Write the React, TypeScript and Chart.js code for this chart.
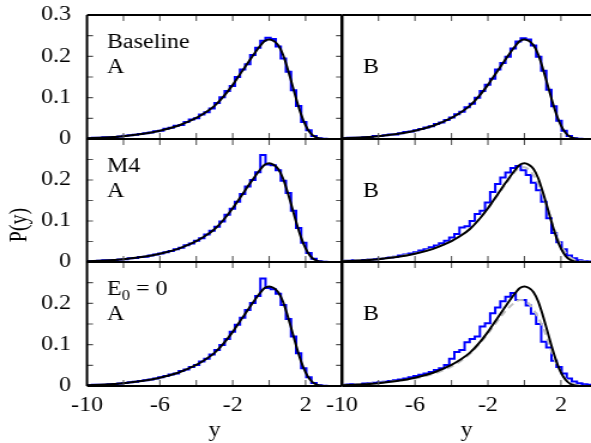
import React, { useEffect, useRef } from 'react';
import { Chart, registerables } from 'chart.js';

Chart.register(...registerables);

// page size and a horizontal stretch (the reference figure is wider than its font's natural proportions)
const W = 591;
const H = 443;
const CW = 493; // canvas drawing width, stretched by CSS to W
const SX = W / CW;
const FONT_FAMILY = "'Liberation Serif', 'Times New Roman', Times, serif";
const FONT_SIZE = 20;

// ---- axis ticks ----
const xTickLabels = [-10, -6, -2, 2];
const xMinorTicks = [-8, -6, -4, -2, 0, 2];
const yTickLabelsTop = [0, 0.1, 0.2, 0.3];
const yTickLabelsLower = [0, 0.1, 0.2];
const yMinorTicks = [0.05, 0.1, 0.15, 0.2, 0.25];

// ---- smooth curves (x positions and values) ----
const curveX = [-10, -9, -8, -7, -6, -5, -4.5, -4, -3.5, -3, -2.5, -2, -1.5, -1, -0.5, -0.25, 0, 0.25, 0.5, 0.75, 1, 1.25, 1.5, 1.75, 2, 2.25, 2.5, 2.75, 3, 3.5, 4];
const theoryCurve = [0.002, 0.0035, 0.0068, 0.012, 0.02, 0.032, 0.041, 0.051, 0.064, 0.08, 0.103, 0.131, 0.163, 0.195, 0.225, 0.237, 0.241, 0.237, 0.227, 0.205, 0.172, 0.134, 0.095, 0.06, 0.033, 0.015, 0.0055, 0.0015, 0.0003, 0, 0];
const grayM4B = [0.003, 0.005, 0.008, 0.013, 0.021, 0.033, 0.041, 0.051, 0.064, 0.081, 0.104, 0.131, 0.161, 0.192, 0.221, 0.23, 0.231, 0.225, 0.211, 0.191, 0.164, 0.132, 0.099, 0.067, 0.041, 0.023, 0.011, 0.005, 0.002, 0.0003, 0];
const grayE0B = [0.003, 0.005, 0.0075, 0.012, 0.018, 0.029, 0.037, 0.047, 0.06, 0.077, 0.1, 0.127, 0.156, 0.183, 0.203, 0.208, 0.207, 0.199, 0.185, 0.166, 0.143, 0.115, 0.082, 0.054, 0.033, 0.018, 0.009, 0.004, 0.0015, 0.0002, 0];

// ---- histograms: 50 bins of width 0.28 from -10 to 4 ----
const BIN_START = -10;
const BIN_WIDTH = 0.28;
const histBaselineA = [0.002, 0.003, 0.003, 0.004, 0.004, 0.005, 0.006, 0.008, 0.009, 0.010, 0.012, 0.014, 0.016, 0.019, 0.020, 0.025, 0.027, 0.032, 0.034, 0.041, 0.047, 0.050, 0.059, 0.065, 0.074, 0.087, 0.101, 0.116, 0.128, 0.150, 0.168, 0.181, 0.203, 0.221, 0.238, 0.245, 0.242, 0.224, 0.195, 0.163, 0.118, 0.080, 0.041, 0.021, 0.007, 0.002, 0.0004, 0, 0, 0];
const histBaselineB = [0.002, 0.003, 0.003, 0.003, 0.004, 0.005, 0.007, 0.007, 0.009, 0.011, 0.011, 0.014, 0.017, 0.018, 0.021, 0.024, 0.028, 0.031, 0.036, 0.040, 0.046, 0.052, 0.060, 0.066, 0.077, 0.085, 0.100, 0.116, 0.131, 0.146, 0.168, 0.184, 0.199, 0.219, 0.236, 0.244, 0.241, 0.226, 0.199, 0.165, 0.119, 0.079, 0.044, 0.020, 0.007, 0.002, 0.0004, 0, 0, 0];
const histM4A = [0.002, 0.002, 0.003, 0.004, 0.004, 0.005, 0.006, 0.007, 0.009, 0.010, 0.012, 0.013, 0.016, 0.018, 0.021, 0.024, 0.027, 0.031, 0.035, 0.041, 0.045, 0.052, 0.058, 0.067, 0.076, 0.086, 0.099, 0.115, 0.130, 0.147, 0.166, 0.184, 0.200, 0.219, 0.261, 0.238, 0.236, 0.224, 0.198, 0.168, 0.125, 0.083, 0.047, 0.022, 0.008, 0.002, 0.0004, 0, 0, 0];
const histM4B = [0.003, 0.003, 0.004, 0.004, 0.005, 0.006, 0.007, 0.008, 0.010, 0.011, 0.013, 0.016, 0.018, 0.021, 0.024, 0.028, 0.031, 0.036, 0.040, 0.046, 0.052, 0.060, 0.068, 0.084, 0.087, 0.100, 0.117, 0.125, 0.145, 0.171, 0.190, 0.206, 0.218, 0.229, 0.234, 0.224, 0.212, 0.193, 0.175, 0.147, 0.107, 0.071, 0.048, 0.031, 0.016, 0.009, 0.004, 0.002, 0.001, 0.0005];
const histE0A = [0.002, 0.003, 0.003, 0.003, 0.004, 0.005, 0.006, 0.007, 0.009, 0.010, 0.012, 0.014, 0.016, 0.018, 0.021, 0.024, 0.028, 0.030, 0.036, 0.040, 0.046, 0.051, 0.059, 0.066, 0.076, 0.087, 0.099, 0.114, 0.131, 0.148, 0.165, 0.184, 0.201, 0.218, 0.260, 0.237, 0.234, 0.223, 0.196, 0.162, 0.120, 0.079, 0.043, 0.021, 0.007, 0.002, 0.0004, 0, 0, 0];
const histE0B = [0.003, 0.004, 0.004, 0.005, 0.006, 0.007, 0.008, 0.009, 0.010, 0.012, 0.014, 0.016, 0.018, 0.021, 0.024, 0.027, 0.030, 0.034, 0.039, 0.043, 0.051, 0.066, 0.082, 0.087, 0.106, 0.114, 0.120, 0.144, 0.152, 0.176, 0.190, 0.205, 0.216, 0.225, 0.208, 0.208, 0.195, 0.175, 0.150, 0.107, 0.093, 0.061, 0.046, 0.030, 0.018, 0.011, 0.0065, 0.004, 0.003, 0.002];

// ---- panel texts ----
const rowTitles = ['Baseline', 'M4', 'E_0 = 0'];
const colTitles = ['A', 'B'];
const yAxisTitle = 'P(y)';
const xAxisTitle = 'y';

// ---- layout (page-pixel frame of each panel) ----
const COLS = [
  { left: 87, right: 342, xMax: 4 },
  { left: 342, right: W, xMax: 3.65 },
];
const ROWS = [
  { top: 15, bottom: 139 },
  { top: 139, bottom: 262 },
  { top: 262, bottom: 386 },
];
const px = (v: number) => v / SX; // page x -> canvas x

type Panel = { row: number; col: number; hist: number[]; gray?: number[] };
const PANELS: Panel[] = [
  { row: 0, col: 0, hist: histBaselineA },
  { row: 0, col: 1, hist: histBaselineB },
  { row: 1, col: 0, hist: histM4A },
  { row: 1, col: 1, hist: histM4B, gray: grayM4B },
  { row: 2, col: 0, hist: histE0A },
  { row: 2, col: 1, hist: histE0B, gray: grayE0B },
];

function font(size = FONT_SIZE) {
  return `${size}px ${FONT_FAMILY}`;
}

function drawLabel(ctx: CanvasRenderingContext2D, text: string, x: number, y: number) {
  // supports one subscript written as "_c"
  const idx = text.indexOf('_');
  ctx.font = font();
  if (idx < 0) {
    ctx.fillText(text, x, y);
    return;
  }
  const pre = text.slice(0, idx);
  const sub = text.slice(idx + 1, idx + 2);
  const post = text.slice(idx + 2);
  ctx.fillText(pre, x, y);
  let cx = x + ctx.measureText(pre).width;
  ctx.font = font(14);
  ctx.fillText(sub, cx, y + 5);
  cx += ctx.measureText(sub).width;
  ctx.font = font();
  ctx.fillText(post, cx, y);
}

const decoPlugin = {
  id: 'panelDeco',
  afterDatasetsDraw(chart: any, _args: any, opts: any) {
    const { ctx, chartArea: a, scales } = chart;
    ctx.save();
    const LX = 6;
    const LY = px(6);
    ctx.strokeStyle = '#555';
    ctx.lineWidth = 1.1;
    ctx.beginPath();
    for (const v of xMinorTicks) {
      const x = scales.x.getPixelForValue(v);
      if (x <= a.left + 1 || x >= a.right - 1) continue;
      ctx.moveTo(x, a.bottom);
      ctx.lineTo(x, a.bottom - LX);
      ctx.moveTo(x, a.top);
      ctx.lineTo(x, a.top + LX);
    }
    for (const v of yMinorTicks) {
      const y = scales.y.getPixelForValue(v);
      if (opts.leftTicks) {
        ctx.moveTo(a.left, y);
        ctx.lineTo(a.left + LY, y);
      }
      if (opts.rightTicks) {
        ctx.moveTo(a.right, y);
        ctx.lineTo(a.right - LY, y);
      }
    }
    ctx.stroke();

    ctx.strokeStyle = '#000';
    ctx.lineWidth = 2;
    ctx.beginPath();
    ctx.moveTo(a.left, a.top);
    ctx.lineTo(a.right, a.top);
    ctx.moveTo(a.left, a.bottom);
    ctx.lineTo(a.right, a.bottom);
    ctx.moveTo(a.left, a.top);
    ctx.lineTo(a.left, a.bottom);
    if (opts.rightBorder) {
      ctx.moveTo(a.right, a.top);
      ctx.lineTo(a.right, a.bottom);
    }
    ctx.stroke();

    ctx.fillStyle = '#000';
    ctx.textBaseline = 'alphabetic';
    ctx.textAlign = 'left';
    if (opts.title) drawLabel(ctx, opts.title, a.left + px(20), a.top + 33);
    if (opts.sub) drawLabel(ctx, opts.sub, a.left + px(opts.title ? 20 : 21), a.top + 58);

    if (opts.yTitle) {
      ctx.save();
      ctx.translate(px(20), 225);
      ctx.rotate(-Math.PI / 2);
      ctx.textAlign = 'center';
      ctx.textBaseline = 'middle';
      ctx.font = font();
      ctx.fillText(opts.yTitle, 0, 0);
      ctx.restore();
    }
    ctx.restore();
  },
};

function histPoints(values: number[]) {
  const pts = values.map((v, i) => ({ x: BIN_START + i * BIN_WIDTH, y: v }));
  pts.push({ x: BIN_START + values.length * BIN_WIDTH, y: values[values.length - 1] });
  return pts;
}

function makeConfig(p: Panel): any {
  const col = COLS[p.col];
  const row = ROWS[p.row];
  const isLeft = p.col === 0;
  const isBottom = p.row === 2;
  const datasets: any[] = [
    {
      data: curveX.map((x, i) => ({ x, y: theoryCurve[i] })),
      borderColor: '#000',
      borderWidth: 2,
      pointRadius: 0,
      cubicInterpolationMode: 'monotone',
      fill: false,
    },
  ];
  if (p.gray) {
    datasets.push({
      data: curveX.map((x, i) => ({ x, y: p.gray![i] })),
      borderColor: '#c0c0c0',
      borderWidth: 2,
      borderDash: [6, 4],
      pointRadius: 0,
      cubicInterpolationMode: 'monotone',
      fill: false,
    });
  }
  datasets.push({
    data: histPoints(p.hist),
    borderColor: '#0000ff',
    borderWidth: 2,
    pointRadius: 0,
    stepped: 'before',
    fill: false,
  });
  const yLabels = p.row === 0 ? yTickLabelsTop : yTickLabelsLower;
  return {
    type: 'line',
    data: { datasets },
    plugins: [decoPlugin],
    options: {
      responsive: false,
      animation: false,
      events: [],
      layout: {
        padding: {
          left: isLeft ? 0 : px(col.left),
          right: CW - px(col.right),
          top: row.top,
          bottom: isBottom ? 0 : H - row.bottom,
        },
      },
      plugins: {
        legend: { display: false },
        tooltip: { enabled: false },
        panelDeco: {
          title: isLeft ? rowTitles[p.row] : null,
          sub: colTitles[p.col],
          leftTicks: isLeft,
          rightTicks: isLeft,
          rightBorder: isLeft,
          yTitle: isLeft && p.row === 1 ? yAxisTitle : null,
        },
      },
      scales: {
        x: {
          type: 'linear',
          min: -10,
          max: col.xMax,
          display: isBottom,
          afterFit: (s: any) => {
            s.height = isBottom ? H - ROWS[2].bottom : 0;
            s.paddingLeft = 0;
            s.paddingRight = 0;
          },
          afterBuildTicks: (s: any) => {
            s.ticks = xTickLabels.map((v) => ({ value: v }));
          },
          ticks: {
            font: { family: FONT_FAMILY, size: FONT_SIZE },
            color: '#000',
            padding: 8,
            maxRotation: 0,
            autoSkip: false,
            callback: (v: number) => String(v),
          },
          grid: { display: false, drawTicks: false },
          border: { display: false },
          title: {
            display: true,
            text: xAxisTitle,
            font: { family: FONT_FAMILY, size: FONT_SIZE },
            color: '#000',
            padding: 0,
          },
        },
        y: {
          type: 'linear',
          min: 0,
          max: 0.3,
          display: isLeft,
          afterFit: (s: any) => {
            s.width = isLeft ? px(COLS[0].left) : 0;
            s.paddingTop = 0;
            s.paddingBottom = 0;
          },
          afterBuildTicks: (s: any) => {
            s.ticks = yLabels.map((v) => ({ value: v }));
          },
          ticks: {
            font: { family: FONT_FAMILY, size: FONT_SIZE },
            color: '#000',
            padding: px(COLS[0].left) - px(71),
            autoSkip: false,
            callback: (v: number) => (v === 0 ? '0' : v.toFixed(1)),
          },
          grid: { display: false, drawTicks: false },
          border: { display: false },
        },
      },
    },
  };
}

export default function App() {
  const refs = useRef<(HTMLCanvasElement | null)[]>([]);
  useEffect(() => {
    const charts = PANELS.map((p, i) => new Chart(refs.current[i] as HTMLCanvasElement, makeConfig(p)));
    return () => charts.forEach((c) => c.destroy());
  }, []);
  return (
    <div style={{ position: 'fixed', left: 0, top: 0, width: W, height: H, background: '#fff' }}>
      {PANELS.map((_, i) => (
        <canvas
          key={i}
          ref={(el) => {
            refs.current[i] = el;
          }}
          width={CW}
          height={H}
          style={{ position: 'absolute', left: 0, top: 0, width: W, height: H }}
        />
      ))}
    </div>
  );
}
